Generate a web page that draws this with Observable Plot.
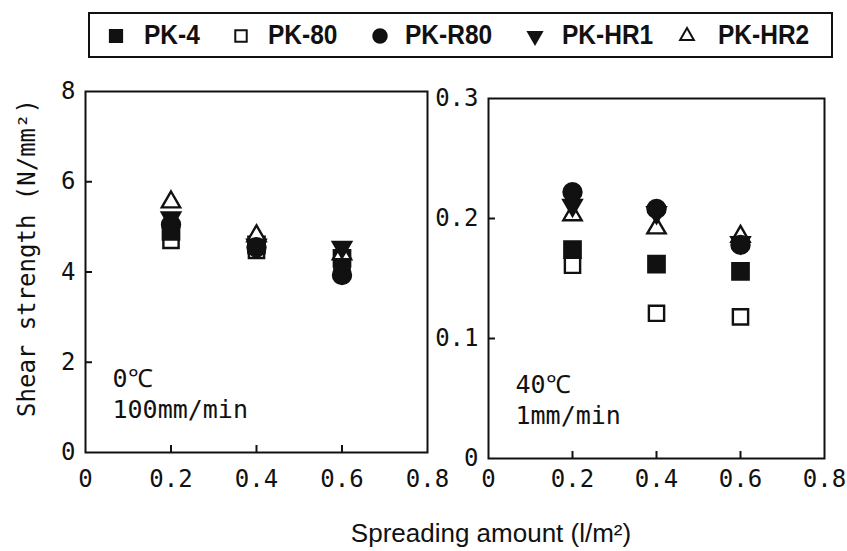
<!DOCTYPE html>
<html><head><meta charset="utf-8">
<script src="https://cdn.jsdelivr.net/npm/d3@7"></script>
<script src="https://cdn.jsdelivr.net/npm/@observablehq/plot@0.6"></script>
<style>
body{margin:0;background:#fff;}
#wrap{position:relative;width:847px;height:551px;overflow:hidden;background:#fff;color:#111;}
#wrap svg.plotsvg{position:absolute;top:0;}
#legend{position:absolute;left:88px;top:12px;width:741px;height:42px;border:2px solid #111;}
.li{position:absolute;top:0;height:42px;line-height:42px;font-family:"Liberation Sans Narrow","Liberation Sans",sans-serif;font-size:24.5px;font-weight:bold;transform:scaleY(1.12);transform-origin:left center;}
.lm{position:absolute;top:12px;}
#xtitle{position:absolute;left:491px;top:518px;transform:translateX(-50%);font-family:"Liberation Sans",sans-serif;font-size:26px;white-space:nowrap;}
</style></head><body><div id="wrap"><div id="legend"></div><div id="xtitle">Spreading amount (l/m²)</div></div>
<script>
// ---- data ----
const series = ["PK-4", "PK-80", "PK-R80", "PK-HR1", "PK-HR2"];
const spreading = [0.2, 0.4, 0.6];
// 0°C, 100mm/min (N/mm²)
const coldPK4   = [4.9, 4.6, 4.3];
const coldPK80  = [4.7, 4.48, 4.1];
const coldPKR80 = [5.05, 4.55, 3.93];
const coldPKHR1 = [5.2, 4.6, 4.55];
const coldPKHR2 = [5.55, 4.8, 4.4];
// 40°C, 1mm/min (N/mm²)
const hotPK4   = [0.174, 0.162, 0.156];
const hotPK80  = [0.161, 0.121, 0.118];
const hotPKR80 = [0.222, 0.208, 0.178];
const hotPKHR1 = [0.211, 0.205, 0.18];
const hotPKHR2 = [0.203, 0.192, 0.185];
// ticks
const xTicks = [0, 0.2, 0.4, 0.6, 0.8];
const xTickLabels = ["0", "0.2", "0.4", "0.6", "0.8"];
const xInnerTicks = [0.2, 0.4, 0.6];
const coldYTicks = [0, 2, 4, 6, 8];
const coldYTickLabels = ["0", "2", "4", "6", "8"];
const coldYInner = [2, 4, 6];
const hotYTicks = [0, 0.1, 0.2, 0.3];
const hotYTickLabels = ["0", "0.1", "0.2", "0.3"];
const hotYInner = [0.1, 0.2];
const coldNote = ["0℃", "100mm/min"];
const hotNote = ["40℃", "1mm/min"];
const yTitle = "Shear strength (N/mm²)";

// ---- symbols ----
const sqrt3 = Math.sqrt(3);
const triangleDown = {draw(ctx, size) {
  const y = -Math.sqrt(size / (sqrt3 * 3));
  ctx.moveTo(0, -y * 2); ctx.lineTo(-sqrt3 * y, y); ctx.lineTo(sqrt3 * y, y); ctx.closePath();
}};
const styleOf = {
  "PK-4":   {symbol: "square",   fill: "#111", stroke: "#111", r: 9.2},
  "PK-80":  {symbol: "square",   fill: "#fff", stroke: "#111", r: 8.6},
  "PK-R80": {symbol: "circle",   fill: "#111", stroke: "#111", r: 9},
  "PK-HR1": {symbol: triangleDown, fill: "#111", stroke: "#111", r: 6.8},
  "PK-HR2": {symbol: "triangle", fill: "#fff", stroke: "#111", r: 6.8}
};
const drawOrder = ["PK-80", "PK-4", "PK-HR2", "PK-HR1", "PK-R80"];

function rows(lists) {
  const out = [];
  series.forEach((s, k) => lists[k].forEach((v, i) => out.push({series: s, x: spreading[i], y: v})));
  return out;
}
const coldRows = rows([coldPK4, coldPK80, coldPKR80, coldPKHR1, coldPKHR2]);
const hotRows = rows([hotPK4, hotPK80, hotPKR80, hotPKHR1, hotPKHR2]);

function dots(data) {
  return drawOrder.map(s => Plot.dot(data.filter(d => d.series === s), {
    x: "x", y: "y", symbol: styleOf[s].symbol, fill: styleOf[s].fill, stroke: styleOf[s].stroke,
    strokeWidth: 2.4, r: styleOf[s].r
  }));
}
const baseStyle = {fontFamily: "DejaVu Sans Mono, monospace", fontSize: "25px", color: "#111", background: "transparent", overflow: "visible"};

function panel({width, ml, mr, mt, mb, yDomain, yTicks, yLabels, yInner, note, rows, xPad, extra}) {
  const xl = new Map(xTicks.map((t, i) => [t, xTickLabels[i]]));
  const yl = new Map(yTicks.map((t, i) => [t, yLabels[i]]));
  return Plot.plot({
    width, height: 551, marginLeft: ml, marginRight: mr, marginTop: mt, marginBottom: mb,
    x: {domain: [0, 0.8]}, y: {domain: yDomain},
    style: baseStyle,
    marks: [
      Plot.axisX(xTicks, {tickSize: 0, tickPadding: xPad, tickFormat: d => xl.get(d), label: null, fontSize: 24}),
      Plot.axisX(xInnerTicks, {tickSize: -7, strokeWidth: 2, tickFormat: () => "", label: null}),
      Plot.axisY(yTicks, {tickSize: 0, tickPadding: 10, tickFormat: d => yl.get(d), label: null, fontSize: 24}),
      Plot.axisY(yInner, {tickSize: -7, strokeWidth: 2, tickFormat: () => "", label: null}),
      Plot.frame({stroke: "#111", strokeWidth: 2}),
      ...dots(rows),
      Plot.text([note[0]], {frameAnchor: "bottom-left", textAnchor: "start", dx: 27, dy: -66, fontSize: 25}),
      Plot.text([note[1]], {frameAnchor: "bottom-left", textAnchor: "start", dx: 27, dy: -35, fontSize: 25}),
      ...(extra || [])
    ]
  });
}

const left = panel({width: 440, ml: 85, mr: 13, mt: 91, mb: 99, yDomain: [0, 8], yTicks: coldYTicks, yLabels: coldYTickLabels, yInner: coldYInner, note: coldNote, rows: coldRows, xPad: 17,
  extra: [Plot.text([yTitle], {frameAnchor: "left", textAnchor: "middle", rotate: -90, dx: -58, dy: -14, fontSize: 24})]});
const right = panel({width: 407, ml: 48, mr: 23, mt: 98, mb: 93, yDomain: [0, 0.3], yTicks: hotYTicks, yLabels: hotYTickLabels, yInner: hotYInner, note: hotNote, rows: hotRows, xPad: 11});
left.classList.add("plotsvg"); right.classList.add("plotsvg");
left.style.left = "0px"; right.style.left = "440px";
const wrap = document.getElementById("wrap");
wrap.appendChild(left); wrap.appendChild(right);

// ---- legend ----
const legend = document.getElementById("legend");
const markerX = [26, 151, 290, 445, 597];
const textX = [54, 178, 315, 472, 628];
series.forEach((s, i) => {
  const st = styleOf[s];
  const size = (st.r * 0.75) ** 2 * Math.PI;
  const sym = typeof st.symbol === "string" ? {square: d3.symbolSquare, circle: d3.symbolCircle, triangle: d3.symbolTriangle}[st.symbol] : st.symbol;
  const svg = d3.create("svg").attr("class", "lm").attr("width", 20).attr("height", 20)
    .style("left", (markerX[i] - 10) + "px");
  svg.append("path").attr("transform", "translate(10,10)").attr("d", d3.symbol(sym, size)())
    .attr("fill", st.fill).attr("stroke", st.stroke).attr("stroke-width", 2);
  legend.appendChild(svg.node());
  const t = document.createElement("div");
  t.className = "li"; t.style.left = textX[i] + "px"; t.textContent = s;
  legend.appendChild(t);
});
</script></body></html>
